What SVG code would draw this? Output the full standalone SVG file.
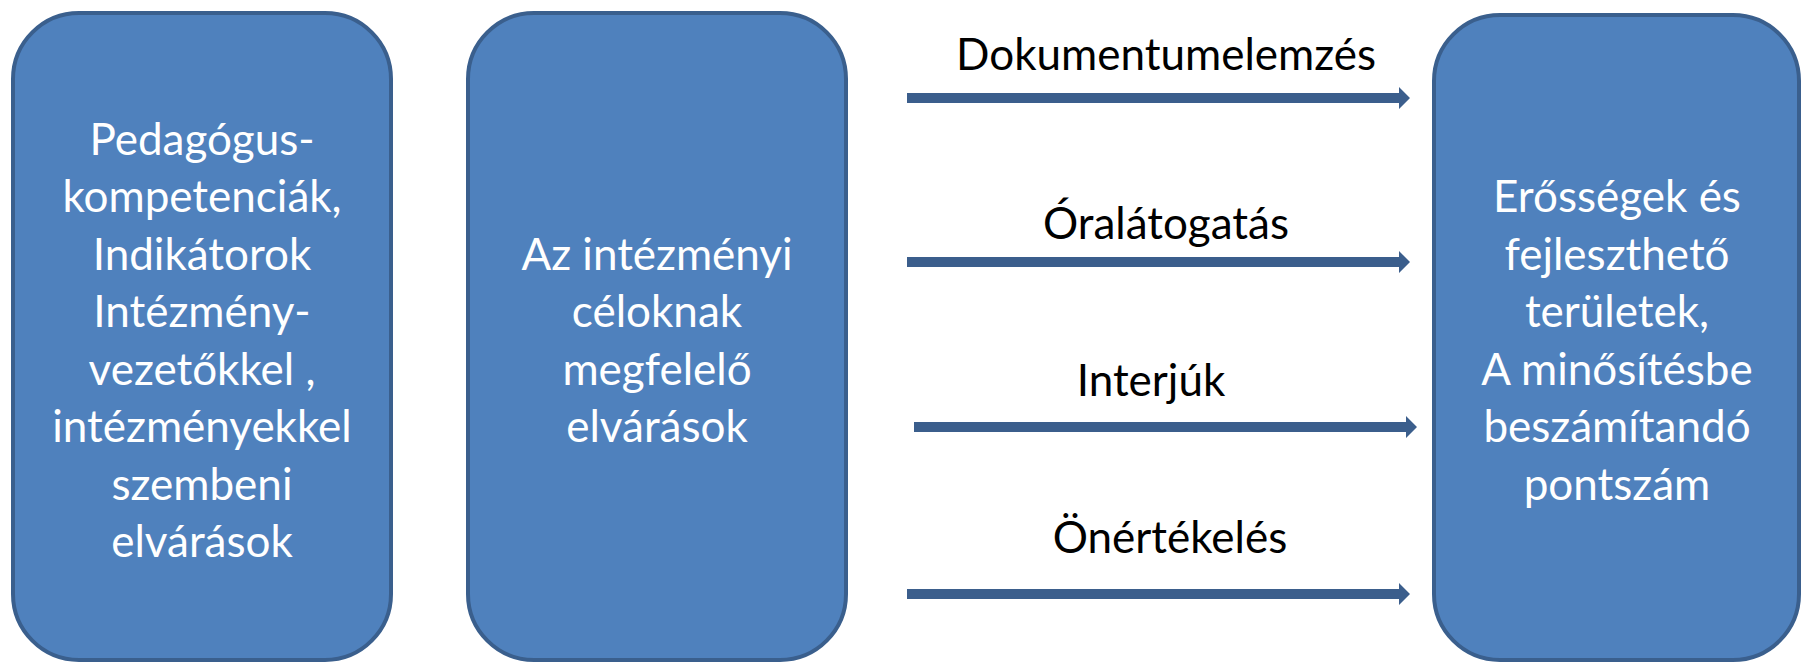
<svg xmlns="http://www.w3.org/2000/svg" width="1802" height="663" viewBox="0 0 1802 663">
<style>
.box{fill:#4F81BD;stroke:#3A5F8D;stroke-width:4}
.bt{font-family:Lato,"Liberation Sans",Arial,sans-serif;font-size:44px;fill:#FFFFFF;text-anchor:middle}
.lt{font-family:Lato,"Liberation Sans",Arial,sans-serif;font-size:44px;fill:#000000;text-anchor:middle}
.arr{fill:#3B5E8C}
</style>
<rect width="1802" height="663" fill="#FFFFFF"/>
<g id="node-pedagogus">
<rect class="box" x="13" y="13" width="378" height="647" rx="66" ry="66"/>
<text class="bt" x="202" y="155">Pedagógus-</text>
<text class="bt" x="202" y="212">kompetenciák,</text>
<text class="bt" x="202" y="270">Indikátorok</text>
<text class="bt" x="202" y="327">Intézmény-</text>
<text class="bt" x="202" y="385">vezetőkkel ,</text>
<text class="bt" x="202" y="442">intézményekkel</text>
<text class="bt" x="202" y="500">szembeni</text>
<text class="bt" x="202" y="557">elvárások</text>
</g>
<g id="node-intezmenyi">
<rect class="box" x="468" y="13" width="378" height="647" rx="66" ry="66"/>
<text class="bt" x="657" y="270">Az intézményi</text>
<text class="bt" x="657" y="327">céloknak</text>
<text class="bt" x="657" y="385">megfelelő</text>
<text class="bt" x="657" y="442">elvárások</text>
</g>
<g id="node-erossegek">
<rect class="box" x="1434" y="15" width="365" height="645" rx="66" ry="66"/>
<text class="bt" x="1617" y="212">Erősségek és</text>
<text class="bt" x="1617" y="270">fejleszthető</text>
<text class="bt" x="1617" y="327">területek,</text>
<text class="bt" x="1617" y="385">A minősítésbe</text>
<text class="bt" x="1617" y="442">beszámítandó</text>
<text class="bt" x="1617" y="500">pontszám</text>
</g>
<g id="connectors">
<polygon class="arr" points="907,93 1399,93 1399,87 1410,98 1399,109 1399,103 907,103"/>
<polygon class="arr" points="907,257 1399,257 1399,251 1410,262 1399,273 1399,267 907,267"/>
<polygon class="arr" points="914,422 1406,422 1406,416 1417,427 1406,438 1406,432 914,432"/>
<polygon class="arr" points="907,589 1399,589 1399,583 1410,594 1399,605 1399,599 907,599"/>
<text class="lt" x="1166" y="70">Dokumentumelemzés</text>
<text class="lt" x="1166" y="239">Óralátogatás</text>
<text class="lt" x="1151" y="396">Interjúk</text>
<text class="lt" x="1170" y="553">Önértékelés</text>
</g>
</svg>
